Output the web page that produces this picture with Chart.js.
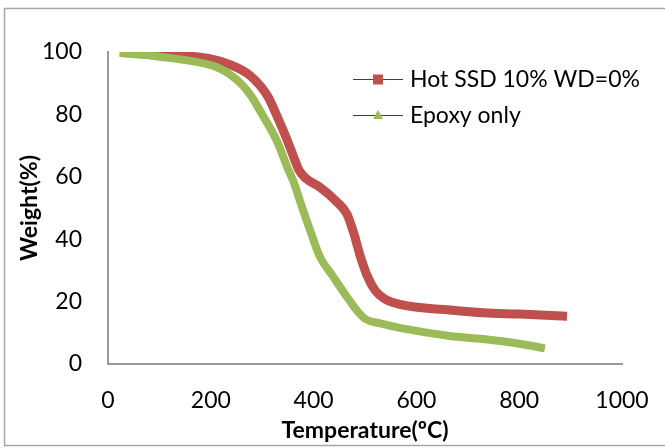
<!DOCTYPE html>
<html>
<head>
<meta charset="utf-8">
<script src="https://cdn.jsdelivr.net/npm/chart.js@4/dist/chart.umd.min.js"></script>
<style>
    html, body { margin: 0; padding: 0; background: #fff; }
    #wrap { width: 665px; height: 448px; }
</style>
</head>
<body>
<div id="wrap"><canvas id="tgaChart" width="665" height="448"></canvas></div>
<script>
// TGA data
const hotTemps = [23, 100, 200, 240, 276, 310, 330, 348, 362, 372, 385, 412, 445, 465, 478, 490, 505, 520, 537, 570, 665, 730, 800, 893];
const hotWeights = [100, 99.3, 97.8, 95.8, 92.5, 86, 79, 72, 66, 62, 59.5, 56.7, 52, 48, 42, 35, 28, 23.5, 21, 19, 17.3, 16.4, 16, 15.3];
const epoxyTemps = [23, 100, 200, 220, 240, 258, 276, 300, 330, 349, 362, 373, 395, 412, 438, 467, 485, 500, 530, 570, 665, 730, 800, 850];
const epoxyWeights = [99.7, 98.5, 95.8, 94.5, 92.5, 90, 86.5, 80, 71, 63, 58, 52.5, 42, 34.5, 28, 21, 17, 14.5, 13, 11.5, 9, 8, 6.5, 5];
const xTicks = [0, 200, 400, 600, 800, 1000];
const yTicks = [0, 20, 40, 60, 80, 100];

const FONT = 'Lato, "Open Sans", sans-serif';
const RED = '#C0504D';
const GREEN = '#9BBB59';
const AXIS = '#9a9a9a';

const toPoints = (xs, ys) => xs.map((x, i) => ({ x, y: ys[i] }));

// frame around the whole chart
const framePlugin = {
    id: 'frame',
    beforeDraw(chart) {
        const ctx = chart.ctx;
        ctx.save();
        ctx.strokeStyle = '#a6a6a6';
        ctx.lineWidth = 1.5;
        ctx.strokeRect(4.5, 8.5, 670, 437);
        ctx.restore();
    }
};

// Excel style legend: thin line with marker in the middle
const legendPlugin = {
    id: 'lineLegend',
    afterDraw(chart) {
        const ctx = chart.ctx;
        const items = chart.data.datasets.map(ds => ({ label: ds.label, color: ds.borderColor, marker: ds.legendMarker }));
        ctx.save();
        items.forEach((item, i) => {
            const y = 79 + i * 36;
            ctx.strokeStyle = '#404040';
            ctx.lineWidth = 1;
            ctx.beginPath();
            ctx.moveTo(353, y + 0.5);
            ctx.lineTo(403, y + 0.5);
            ctx.stroke();
            ctx.fillStyle = item.color;
            if (item.marker === 'rect') {
                ctx.fillRect(373, y - 4.5, 10, 10);
            } else {
                ctx.beginPath();
                ctx.moveTo(378, y - 5);
                ctx.lineTo(383, y + 4);
                ctx.lineTo(373, y + 4);
                ctx.closePath();
                ctx.fill();
            }
            ctx.fillStyle = '#000';
            ctx.font = '23px ' + FONT;
            ctx.textBaseline = 'middle';
            ctx.textAlign = 'left';
            ctx.fillText(item.label, 410, y + 1);
        });
        ctx.restore();
    }
};

new Chart(document.getElementById('tgaChart').getContext('2d'), {
    type: 'line',
    data: {
        datasets: [{
            label: 'Hot SSD 10% WD=0%',
            data: toPoints(hotTemps, hotWeights),
            borderColor: RED,
            backgroundColor: RED,
            borderWidth: 9,
            pointRadius: 0,
            cubicInterpolationMode: 'monotone',
            legendMarker: 'rect',
            order: 1
        }, {
            label: 'Epoxy only',
            data: toPoints(epoxyTemps, epoxyWeights),
            borderColor: GREEN,
            backgroundColor: GREEN,
            borderWidth: 8,
            pointRadius: 0,
            cubicInterpolationMode: 'monotone',
            legendMarker: 'triangle',
            order: 0
        }]
    },
    options: {
        responsive: false,
        animation: false,
        layout: { padding: { left: 0, top: 52, right: 43, bottom: 0 } },
        plugins: {
            legend: { display: false },
            tooltip: { enabled: false }
        },
        scales: {
            x: {
                type: 'linear',
                min: 0,
                max: 1000,
                afterBuildTicks: scale => { scale.ticks = xTicks.map(v => ({ value: v })); },
                afterFit: scale => {
                    scale.height = 84;
                    scale.paddingLeft = 0;
                    scale.paddingRight = 0;
                },
                grid: { display: false, drawTicks: false },
                border: { display: true, color: AXIS, width: 2 },
                ticks: {
                    color: '#000',
                    padding: 23,
                    font: { family: FONT, size: 23 },
                    callback: v => String(v)
                },
                title: {
                    display: true,
                    text: 'Temperature(ºC)',
                    color: '#000',
                    padding: { top: 0 },
                    font: { family: FONT, size: 23, weight: 'bold' }
                }
            },
            y: {
                min: 0,
                max: 100,
                afterBuildTicks: scale => { scale.ticks = yTicks.map(v => ({ value: v })); },
                afterFit: scale => { scale.width = 108; },
                grid: { display: false, drawTicks: false },
                border: { display: true, color: AXIS, width: 2 },
                ticks: { color: '#000', padding: 26, font: { family: FONT, size: 23 } },
                title: {
                    display: true,
                    text: 'Weight(%)',
                    color: '#000',
                    padding: { top: 16, bottom: 0 },
                    font: { family: FONT, size: 23, weight: 'bold' }
                }
            }
        }
    },
    plugins: [framePlugin, legendPlugin]
});
</script>
</body>
</html>
